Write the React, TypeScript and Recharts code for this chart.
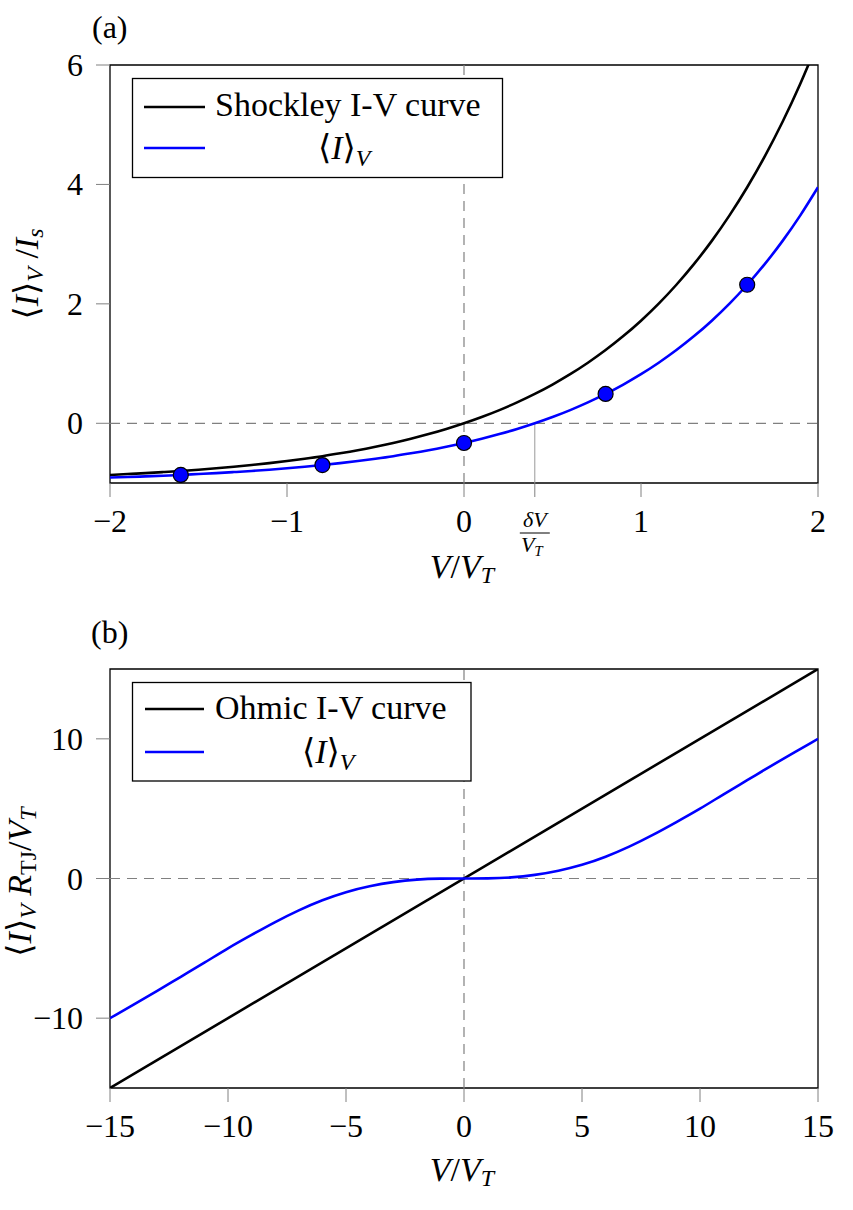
import React from "react"
import {
  ComposedChart,
  Line,
  Scatter,
  XAxis,
  YAxis,
  ReferenceLine,
  ReferenceArea,
} from "recharts"

const FONT = "Liberation Serif, DejaVu Serif, serif"
const GRID = "#808080"
const BLUE = "#0000ff"
const LW = 2.6

// panel (a): Shockley diode
const voltsA = [
  -2.0, -1.9, -1.8, -1.7, -1.6, -1.5, -1.4, -1.3, -1.2, -1.1, -1.0, -0.9, -0.8, -0.7,
  -0.6, -0.5, -0.4, -0.3, -0.2, -0.1, 0.0, 0.1, 0.2, 0.3, 0.4, 0.5, 0.6, 0.7, 0.8, 0.9,
  1.0, 1.1, 1.2, 1.3, 1.4, 1.5, 1.6, 1.7, 1.8, 1.9, 2.0,
]
const shockleyA = [
  -0.865, -0.85, -0.835, -0.817, -0.798, -0.777, -0.753, -0.727, -0.699, -0.667, -0.632,
  -0.593, -0.551, -0.503, -0.451, -0.393, -0.33, -0.259, -0.181, -0.095, 0.0, 0.105, 0.221,
  0.35, 0.492, 0.649, 0.822, 1.014, 1.226, 1.46, 1.718, 2.004, 2.32, 2.669, 3.055, 3.482,
  3.953, 4.474, 5.05, 5.686, 6.389,
]
const averagedA = [
  -0.909, -0.9, -0.889, -0.878, -0.865, -0.85, -0.835, -0.817, -0.798, -0.777, -0.753,
  -0.727, -0.699, -0.667, -0.632, -0.593, -0.551, -0.503, -0.451, -0.393, -0.33, -0.259,
  -0.181, -0.095, 0.0, 0.105, 0.221, 0.35, 0.492, 0.649, 0.822, 1.014, 1.226, 1.46, 1.718,
  2.004, 2.32, 2.669, 3.055, 3.482, 3.953,
]
const dotVolts = [-1.6, -0.8, 0.0, 0.8, 1.6]
const dotCurrents = [-0.865, -0.699, -0.33, 0.492, 2.32]
const deltaV = 0.4
const xTicksA = [-2, -1, 0, deltaV, 1, 2]
const yTicksA = [0, 2, 4, 6]

// panel (b): ohmic junction
const voltsB = [
  -15, -14, -13, -12, -11, -10, -9, -8, -7, -6, -5, -4, -3, -2, -1, 0, 1, 2, 3, 4, 5, 6, 7,
  8, 9, 10, 11, 12, 13, 14, 15,
]
const averagedB = [
  -10.0, -9.03, -8.05, -7.04, -6.03, -5.0, -4.04, -3.12, -2.28, -1.56, -0.98, -0.56,
  -0.26, -0.08, -0.01, 0.0, 0.01, 0.08, 0.26, 0.56, 0.98, 1.56, 2.28, 3.12, 4.04, 5.0,
  6.03, 7.04, 8.05, 9.03, 10.0,
]
const ohmicVolts = [-15, 15]
const ohmicCurrents = [-15, 15]
const xTicksB = [-15, -10, -5, 0, 5, 10, 15]
const yTicksB = [-10, 0, 10]

const zip = (xs: number[], ys: number[]) => xs.map((x, i) => ({ x, y: ys[i] }))

const fmt = (v: number) => (v < 0 ? "\u2212" + Math.abs(v) : String(v))

function XTick(props: any) {
  const { x, y, payload } = props
  if (payload.value === deltaV) {
    return (
      <g style={{ fontFamily: FONT }} fill="#000">
        <text x={x} y={y + 28} textAnchor="middle" fontSize={22} fontStyle="italic">
          δV
        </text>
        <line x1={x - 15} x2={x + 15} y1={y + 34} y2={y + 34} stroke="#000" strokeWidth={1} />
        <text x={x - 3} y={y + 53} textAnchor="middle" fontSize={22} fontStyle="italic">
          V
          <tspan fontSize={15} dy={4}>
            T
          </tspan>
        </text>
      </g>
    )
  }
  return (
    <text x={x} y={y + 33} textAnchor="middle" fontSize={32} style={{ fontFamily: FONT }} fill="#000">
      {fmt(payload.value)}
    </text>
  )
}

function YTick(props: any) {
  const { x, y, payload } = props
  return (
    <text x={x - 11} y={y + 11} textAnchor="end" fontSize={32} style={{ fontFamily: FONT }} fill="#000">
      {fmt(payload.value)}
    </text>
  )
}

const dotShape = (p: any) => (
  <circle cx={p.cx} cy={p.cy} r={7.5} fill={BLUE} stroke="#000" strokeWidth={1.2} />
)

function PanelA() {
  return (
    <ComposedChart width={853} height={600} margin={{ top: 65, right: 35, bottom: 57, left: 0 }}>
      <XAxis
        type="number"
        dataKey="x"
        domain={[-2, 2]}
        ticks={xTicksA}
        interval={0}
        allowDataOverflow
        height={60}
        axisLine={false}
        tickSize={14}
        tickLine={{ stroke: GRID, strokeWidth: 1 }}
        tick={<XTick />}
      />
      <YAxis
        type="number"
        domain={[-1, 6]}
        ticks={yTicksA}
        interval={0}
        allowDataOverflow
        width={110}
        axisLine={false}
        tickSize={14}
        tickLine={{ stroke: GRID, strokeWidth: 1 }}
        tick={<YTick />}
      />
      <ReferenceLine x={0} stroke={GRID} strokeWidth={1.2} strokeDasharray="10 7" />
      <ReferenceLine y={0} stroke={GRID} strokeWidth={1.2} strokeDasharray="10 7" />
      <ReferenceLine
        segment={[
          { x: deltaV, y: -1 },
          { x: deltaV, y: 0 },
        ]}
        stroke="#999"
        strokeWidth={1}
      />
      <Line
        data={zip(voltsA, shockleyA)}
        dataKey="y"
        type="natural"
        stroke="#000"
        strokeWidth={LW}
        dot={false}
        isAnimationActive={false}
      />
      <Line
        data={zip(voltsA, averagedA)}
        dataKey="y"
        type="natural"
        stroke={BLUE}
        strokeWidth={LW}
        dot={false}
        isAnimationActive={false}
      />
      <Scatter
        data={zip(dotVolts, dotCurrents)}
        dataKey="y"
        shape={dotShape}
        isAnimationActive={false}
      />
      <ReferenceArea
        x1={-2}
        x2={2}
        y1={-1}
        y2={6}
        fill="none"
        fillOpacity={0}
        stroke="#000"
        strokeWidth={1.3}
        ifOverflow="visible"
      />
    </ComposedChart>
  )
}

function PanelB() {
  return (
    <ComposedChart width={853} height={610} margin={{ top: 69, right: 35, bottom: 62, left: 0 }}>
      <XAxis
        type="number"
        dataKey="x"
        domain={[-15, 15]}
        ticks={xTicksB}
        interval={0}
        allowDataOverflow
        height={60}
        axisLine={false}
        tickSize={14}
        tickLine={{ stroke: GRID, strokeWidth: 1 }}
        tick={<XTick />}
      />
      <YAxis
        type="number"
        domain={[-15, 15]}
        ticks={yTicksB}
        interval={0}
        allowDataOverflow
        width={110}
        axisLine={false}
        tickSize={14}
        tickLine={{ stroke: GRID, strokeWidth: 1 }}
        tick={<YTick />}
      />
      <ReferenceLine x={0} stroke={GRID} strokeWidth={1.2} strokeDasharray="10 7" />
      <ReferenceLine y={0} stroke={GRID} strokeWidth={1.2} strokeDasharray="10 7" />
      <Line
        data={zip(ohmicVolts, ohmicCurrents)}
        dataKey="y"
        type="linear"
        stroke="#000"
        strokeWidth={LW}
        dot={false}
        isAnimationActive={false}
      />
      <Line
        data={zip(voltsB, averagedB)}
        dataKey="y"
        type="natural"
        stroke={BLUE}
        strokeWidth={LW}
        dot={false}
        isAnimationActive={false}
      />
      <ReferenceArea
        x1={-15}
        x2={15}
        y1={-15}
        y2={15}
        fill="none"
        fillOpacity={0}
        stroke="#000"
        strokeWidth={1.3}
        ifOverflow="visible"
      />
    </ComposedChart>
  )
}

// ⟨I⟩ with a V subscript, as tspans
function AvgI({ size, sub }: { size: number; sub: number }) {
  return (
    <>
      <tspan>⟨</tspan>
      <tspan fontStyle="italic">I</tspan>
      <tspan>⟩</tspan>
      <tspan fontStyle="italic" fontSize={size * 0.7} dy={sub}>
        V
      </tspan>
    </>
  )
}

function Overlay() {
  return (
    <svg
      width={853}
      height={1210}
      style={{ position: "absolute", left: 0, top: 0, pointerEvents: "none", fontFamily: FONT }}
      fill="#000"
    >
      <text x={92} y={38} fontSize={32}>
        (a)
      </text>
      <text x={91} y={643} fontSize={32}>
        (b)
      </text>

      {/* legend (a) */}
      <rect x={132.5} y={78.5} width={370} height={99} fill="#fff" stroke="#000" strokeWidth={1.3} />
      <line x1={144} x2={205} y1={107} y2={107} stroke="#000" strokeWidth={LW} />
      <text x={215} y={116} fontSize={34}>
        Shockley I-V curve
      </text>
      <line x1={144} x2={205} y1={148} y2={148} stroke={BLUE} strokeWidth={LW} />
      <text x={318} y={159} fontSize={34}>
        <AvgI size={34} sub={7} />
      </text>

      {/* legend (b) */}
      <rect x={132.5} y={682.5} width={338.5} height={98.5} fill="#fff" stroke="#000" strokeWidth={1.3} />
      <line x1={145} x2={204} y1={709} y2={709} stroke="#000" strokeWidth={LW} />
      <text x={215} y={719} fontSize={34}>
        Ohmic I-V curve
      </text>
      <line x1={145} x2={204} y1={752} y2={752} stroke={BLUE} strokeWidth={LW} />
      <text x={302} y={763} fontSize={34}>
        <AvgI size={34} sub={7} />
      </text>

      {/* x titles */}
      <text x={462} y={578} fontSize={34} textAnchor="middle">
        <tspan fontStyle="italic">V</tspan>
        <tspan>/</tspan>
        <tspan fontStyle="italic">V</tspan>
        <tspan fontStyle="italic" fontSize={24} dy={5}>
          T
        </tspan>
      </text>
      <text x={462} y={1181} fontSize={34} textAnchor="middle">
        <tspan fontStyle="italic">V</tspan>
        <tspan>/</tspan>
        <tspan fontStyle="italic">V</tspan>
        <tspan fontStyle="italic" fontSize={24} dy={5}>
          T
        </tspan>
      </text>

      {/* y titles */}
      <text transform="translate(38,274) rotate(-90)" fontSize={34} textAnchor="middle">
        <AvgI size={34} sub={5} />
        <tspan dy={-5}> /</tspan>
        <tspan fontStyle="italic">I</tspan>
        <tspan fontStyle="italic" fontSize={24} dy={5}>
          s
        </tspan>
      </text>
      <text transform="translate(31,882) rotate(-90)" fontSize={34} textAnchor="middle">
        <AvgI size={34} sub={5} />
        <tspan dy={-5} fontStyle="italic">
          {" "}R
        </tspan>
        <tspan fontSize={24} dy={5}>
          TJ
        </tspan>
        <tspan dy={-5}>/</tspan>
        <tspan fontStyle="italic">V</tspan>
        <tspan fontStyle="italic" fontSize={24} dy={5}>
          T
        </tspan>
      </text>
    </svg>
  )
}

export default function App() {
  return (
    <div style={{ position: "absolute", left: 0, top: 0, width: 853, height: 1210, background: "#fff" }}>
      <div style={{ position: "absolute", left: 0, top: 0 }}>
        <PanelA />
      </div>
      <div style={{ position: "absolute", left: 0, top: 600 }}>
        <PanelB />
      </div>
      <Overlay />
    </div>
  )
}
